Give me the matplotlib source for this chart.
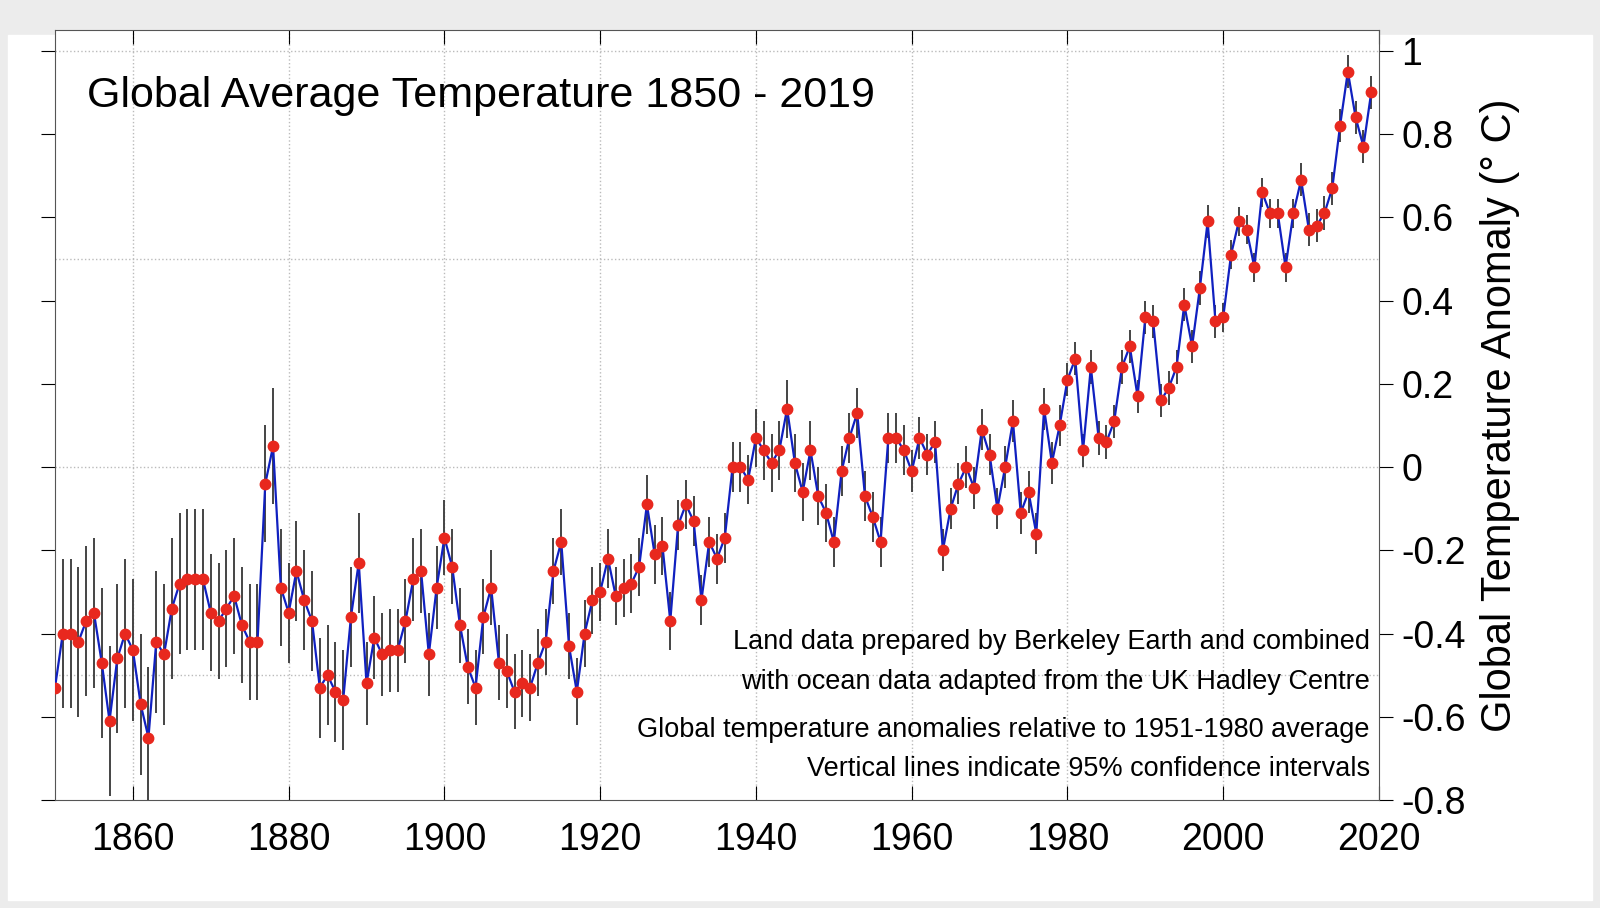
import numpy as np
import matplotlib.pyplot as plt

plt.rcParams['font.family'] = ['Liberation Sans', 'DejaVu Sans']

years = np.arange(1850, 2020)
anomaly = [
    -0.53, -0.40, -0.40, -0.42, -0.37, -0.35, -0.47, -0.61, -0.46, -0.40,
    -0.44, -0.57, -0.65, -0.42, -0.45, -0.34, -0.28, -0.27, -0.27, -0.27,
    -0.35, -0.37, -0.34, -0.31, -0.38, -0.42, -0.42, -0.04, 0.05, -0.29,
    -0.35, -0.25, -0.32, -0.37, -0.53, -0.50, -0.54, -0.56, -0.36, -0.23,
    -0.52, -0.41, -0.45, -0.44, -0.44, -0.37, -0.27, -0.25, -0.45, -0.29,
    -0.17, -0.24, -0.38, -0.48, -0.53, -0.36, -0.29, -0.47, -0.49, -0.54,
    -0.52, -0.53, -0.47, -0.42, -0.25, -0.18, -0.43, -0.54, -0.40, -0.32,
    -0.30, -0.22, -0.31, -0.29, -0.28, -0.24, -0.09, -0.21, -0.19, -0.37,
    -0.14, -0.09, -0.13, -0.32, -0.18, -0.22, -0.17, 0.00, 0.00, -0.03,
    0.07, 0.04, 0.01, 0.04, 0.14, 0.01, -0.06, 0.04, -0.07, -0.11,
    -0.18, -0.01, 0.07, 0.13, -0.07, -0.12, -0.18, 0.07, 0.07, 0.04,
    -0.01, 0.07, 0.03, 0.06, -0.20, -0.10, -0.04, 0.00, -0.05, 0.09,
    0.03, -0.10, 0.00, 0.11, -0.11, -0.06, -0.16, 0.14, 0.01, 0.10,
    0.21, 0.26, 0.04, 0.24, 0.07, 0.06, 0.11, 0.24, 0.29, 0.17,
    0.36, 0.35, 0.16, 0.19, 0.24, 0.39, 0.29, 0.43, 0.59, 0.35,
    0.36, 0.51, 0.59, 0.57, 0.48, 0.66, 0.61, 0.61, 0.48, 0.61,
    0.69, 0.57, 0.58, 0.61, 0.67, 0.82, 0.95, 0.84, 0.77, 0.90,
]
# 95% confidence half-width, one value per decade 1850s..2010s
decade_err = [0.18, 0.17, 0.14, 0.12, 0.10, 0.09, 0.08, 0.07, 0.06,
              0.07, 0.06, 0.05, 0.05, 0.04, 0.04, 0.035, 0.04]
err = np.repeat(decade_err, 10)

fig = plt.figure(figsize=(16, 9.08), dpi=100, facecolor='#ececec')
ax = fig.add_axes([55 / 1600, 1 - 800 / 908, 1324 / 1600, 770 / 908])
ax.set_facecolor('white')
fig.patches.append(plt.Rectangle((8 / 1600, 8 / 908), 1584 / 1600, 865 / 908,
                                 transform=fig.transFigure, color='white', zorder=-1))

for x in range(1860, 2020, 20):
    ax.axvline(x, color='#bbbbbb', ls=':', lw=1, zorder=0)
for y in [1, 0.5, 0, -0.5]:
    ax.axhline(y, color='#bbbbbb', ls=':', lw=1, zorder=0)

ax.vlines(years, np.array(anomaly) - err, np.array(anomaly) + err,
          color='#444444', lw=1.4, zorder=2)
ax.plot(years, anomaly, color='#1020c0', lw=1.6, zorder=3)
ax.plot(years, anomaly, 'o', color='#e8281e', ms=7.5, zorder=4)

ax.set_xlim(1850, 2020)
ax.set_ylim(-0.8, 1.05)
ax.set_xticks(range(1860, 2021, 20))
ax.set_yticks(np.arange(-0.8, 1.01, 0.2))
ax.set_yticklabels(['-0.8', '-0.6', '-0.4', '-0.2', '0', '0.2', '0.4', '0.6', '0.8', '1'])
ax.yaxis.tick_right()
ax.yaxis.set_label_position('right')
ax.tick_params(axis='x', labelsize=27, direction='in', top=True, length=10, pad=16)
ax.tick_params(axis='y', labelsize=27, direction='out', left=True, length=10, pad=6)
for s in ax.spines.values():
    s.set_color('#555555')
ax.set_ylabel('Global Temperature Anomaly (° C)', fontsize=30, labelpad=10)

ax.text(0.024, 0.94, 'Global Average Temperature 1850 - 2019', transform=ax.transAxes,
        fontsize=31, va='top')
notes = [
    (0.205, 'Land data prepared by Berkeley Earth and combined'),
    (0.153, 'with ocean data adapted from the UK Hadley Centre'),
    (0.091, 'Global temperature anomalies relative to 1951-1980 average'),
    (0.040, 'Vertical lines indicate 95% confidence intervals'),
]
for yy, t in notes:
    ax.text(0.993, yy, t, transform=ax.transAxes, fontsize=19.5, ha='right', va='center')

fig.savefig('out.png', dpi=100, facecolor=fig.get_facecolor())
